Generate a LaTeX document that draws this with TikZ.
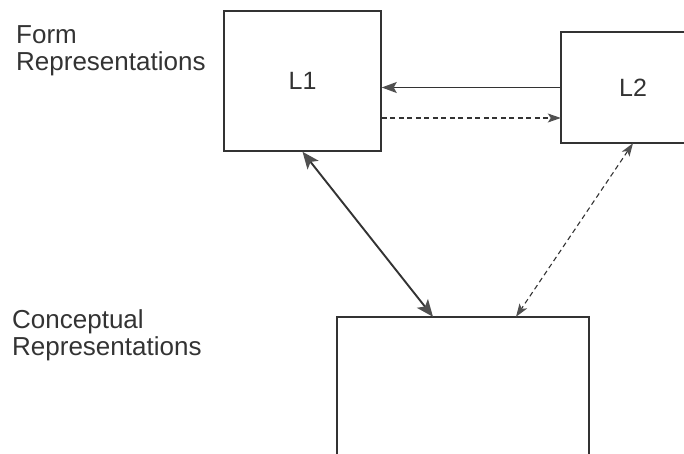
\documentclass[tikz,border=0pt]{standalone}
\usepackage{fontspec}
\setmainfont{Liberation Sans}
\usetikzlibrary{arrows.meta,calc}
\definecolor{ink}{HTML}{333333}
\definecolor{headc}{HTML}{505050}
\tikzset{
  box/.style={draw=ink, line width=1.5pt, inner sep=0pt, font=\fontsize{25}{30}\selectfont, text=ink},
  openbox/.style={inner sep=0pt, font=\fontsize{25}{30}\selectfont, text=ink},
  edge/.style={draw=ink, line width=1.5pt},
  lbl/.style={inner sep=0pt, anchor=base west, align=left, text=ink, font=\fontsize{26}{27}\selectfont},
  arr/.style={draw=ink, line width=1.4pt, -{Stealth[length=15pt,width=11pt,inset=3pt,color=headc]}},
  darr/.style={draw=ink, line width=1.9pt, {Stealth[length=17pt,width=14pt,inset=4pt,color=headc]}-{Stealth[length=17pt,width=14pt,inset=4pt,color=headc]}},
  dsh/.style={draw=ink, line width=1.1pt, dash pattern=on 5pt off 3.5pt, -{Stealth[length=13pt,width=9pt,inset=3pt,color=headc]}},
  ddsh/.style={draw=ink, line width=1.1pt, dash pattern=on 5pt off 3.5pt, {Stealth[length=13pt,width=9pt,inset=3pt,color=headc]}-{Stealth[length=13pt,width=9pt,inset=3pt,color=headc]}},
}
\begin{document}
\begin{tikzpicture}[x=1pt,y=-1pt]
\useasboundingbox (0,0) rectangle (684,454);
\coordinate (E) at (684,0);
% boxes
\node[box, minimum width=157pt, minimum height=140pt] (L1) at (302.5,81) {L1};
\node[openbox, minimum width=144pt, minimum height=111pt] (L2) at (633,87.5) {L2};
\draw[edge] (L2.north west -| E) -- (L2.north west) -- (L2.south west) -- (L2.south west -| E);
\node[openbox, minimum width=252pt, minimum height=137pt] (C) at (463,385.5) {};
\draw[edge] (C.south west) -- (C.north west) -- (C.north east) -- (C.south east);
% labels
\node[lbl] (form) at (16,71) {Form\\Representations};
\node[lbl] (concept) at (12,355) {Conceptual\\Representations};
% connectors
\draw[arr] (L2.west) -- (L2.west -| L1.east);
\coordinate (d1) at ($(L1.east)+(0,37)$);
\draw[dsh] (d1) -- (d1 -| L2.west);
\draw[darr] (L1.south) -- ([xshift=-30pt]C.north);
\draw[ddsh] (L2.south) -- ([xshift=53pt]C.north);
\end{tikzpicture}
\end{document}
